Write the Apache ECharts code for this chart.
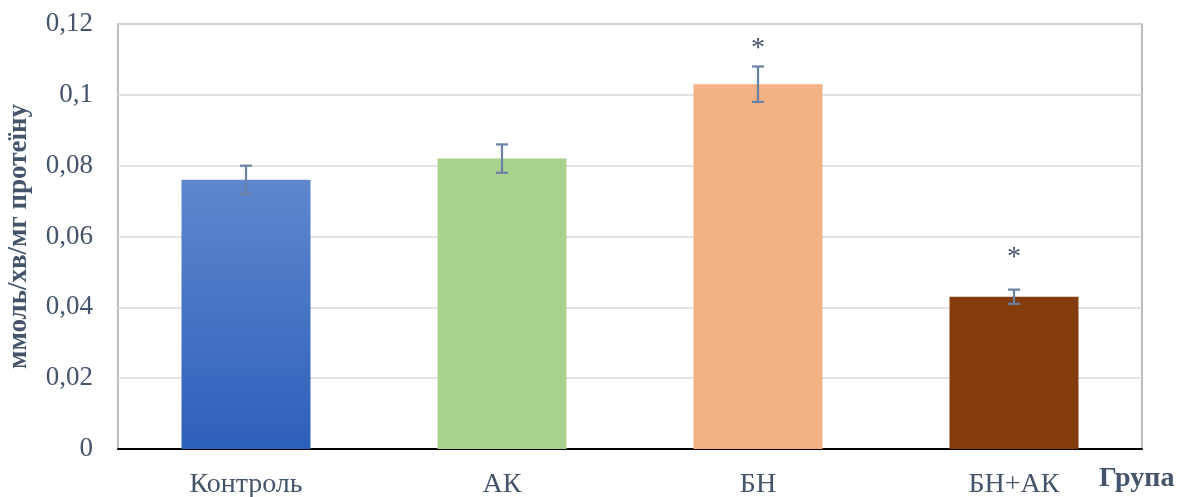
<!DOCTYPE html>
<html>
<head>
<meta charset="utf-8">
<script src="https://cdn.jsdelivr.net/npm/echarts@6/dist/echarts.min.js"></script>
<style>
  html, body { margin: 0; padding: 0; background: #fff; }
  #main { width: 1178px; height: 497px; }
</style>
</head>
<body>
<div id="main"></div>
<script>
const categories = ['Контроль', 'АК', 'БН', 'БН+АК'];
const values = [0.076, 0.082, 0.103, 0.043];
const errors = [0.004, 0.004, 0.005, 0.002];
const stars = [null, null, 0.113, 0.054];
const yTicks = [0, 0.02, 0.04, 0.06, 0.08, 0.1, 0.12];

const textColor = '#44546a';
const font = '"Liberation Serif", "Times New Roman", serif';

const barColors = [
  new echarts.graphic.LinearGradient(0, 0, 0, 1, [
    { offset: 0, color: '#5f87ce' },
    { offset: 1, color: '#2d60ba' }
  ]),
  '#a9d18e',
  '#f4b183',
  '#843c0c'
];

window.onload = function () {
  const myChart = echarts.init(document.getElementById('main'));

  const option = {
    animation: false,
    textStyle: { fontFamily: font },
    grid: {
      left: 118, right: 36, top: 24, bottom: 48,
      outerBoundsMode: 'none',
      show: true, borderColor: '#a6a6a6', borderWidth: 1.5
    },
    xAxis: {
      type: 'category',
      data: categories,
      axisTick: { show: false },
      axisLine: { lineStyle: { color: '#000', width: 2 } },
      axisLabel: { color: textColor, fontSize: 28, fontFamily: font, margin: 22 },
      name: 'Група',
      nameLocation: 'end',
      nameGap: 0,
      nameTextStyle: {
        color: textColor, fontSize: 28, fontWeight: 'bold', fontFamily: font,
        align: 'left', verticalAlign: 'top', padding: [16, 0, 0, -43]
      }
    },
    yAxis: {
      type: 'value',
      min: 0, max: 0.12, interval: 0.02,
      axisLine: { show: false },
      axisTick: { show: false },
      splitLine: { lineStyle: { color: '#d9d9d9', width: 1.5 } },
      axisLabel: {
        color: textColor, fontSize: 27, fontFamily: font, margin: 25,
        formatter: v => {
          const t = yTicks.find(k => Math.abs(k - v) < 1e-9);
          return t === undefined ? '' : String(+t.toFixed(2)).replace('.', ',');
        }
      },
      name: 'ммоль/хв/мг протеїну',
      nameLocation: 'middle',
      nameGap: 85,
      nameTextStyle: { color: textColor, fontSize: 27, fontWeight: 'bold', fontFamily: font }
    },
    series: [
      {
        type: 'bar',
        barWidth: 129,
        data: values.map((v, i) => ({ value: v, itemStyle: { color: barColors[i] } }))
      },
      {
        type: 'custom',
        z: 5,
        data: values.map((v, i) => [i, v - errors[i], v + errors[i]]),
        renderItem: function (params, api) {
          const lo = api.coord([api.value(0), api.value(1)]);
          const hi = api.coord([api.value(0), api.value(2)]);
          const hw = 6;
          const style = { stroke: '#6a80a4', lineWidth: 2.2 };
          return {
            type: 'group',
            children: [
              { type: 'line', shape: { x1: hi[0], y1: hi[1], x2: lo[0], y2: lo[1] }, style: style },
              { type: 'line', shape: { x1: hi[0] - hw, y1: hi[1], x2: hi[0] + hw, y2: hi[1] }, style: style },
              { type: 'line', shape: { x1: lo[0] - hw, y1: lo[1], x2: lo[0] + hw, y2: lo[1] }, style: style }
            ]
          };
        }
      },
      {
        type: 'custom',
        z: 6,
        data: stars.map((s, i) => [i, s]).filter(d => d[1] !== null),
        renderItem: function (params, api) {
          const p = api.coord([api.value(0), api.value(1)]);
          return {
            type: 'text',
            x: p[0], y: p[1],
            style: {
              text: '*', fill: textColor, fontSize: 28, fontFamily: font,
              align: 'center', verticalAlign: 'middle'
            }
          };
        }
      }
    ]
  };

  myChart.setOption(option, true);
};
</script>
</body>
</html>
